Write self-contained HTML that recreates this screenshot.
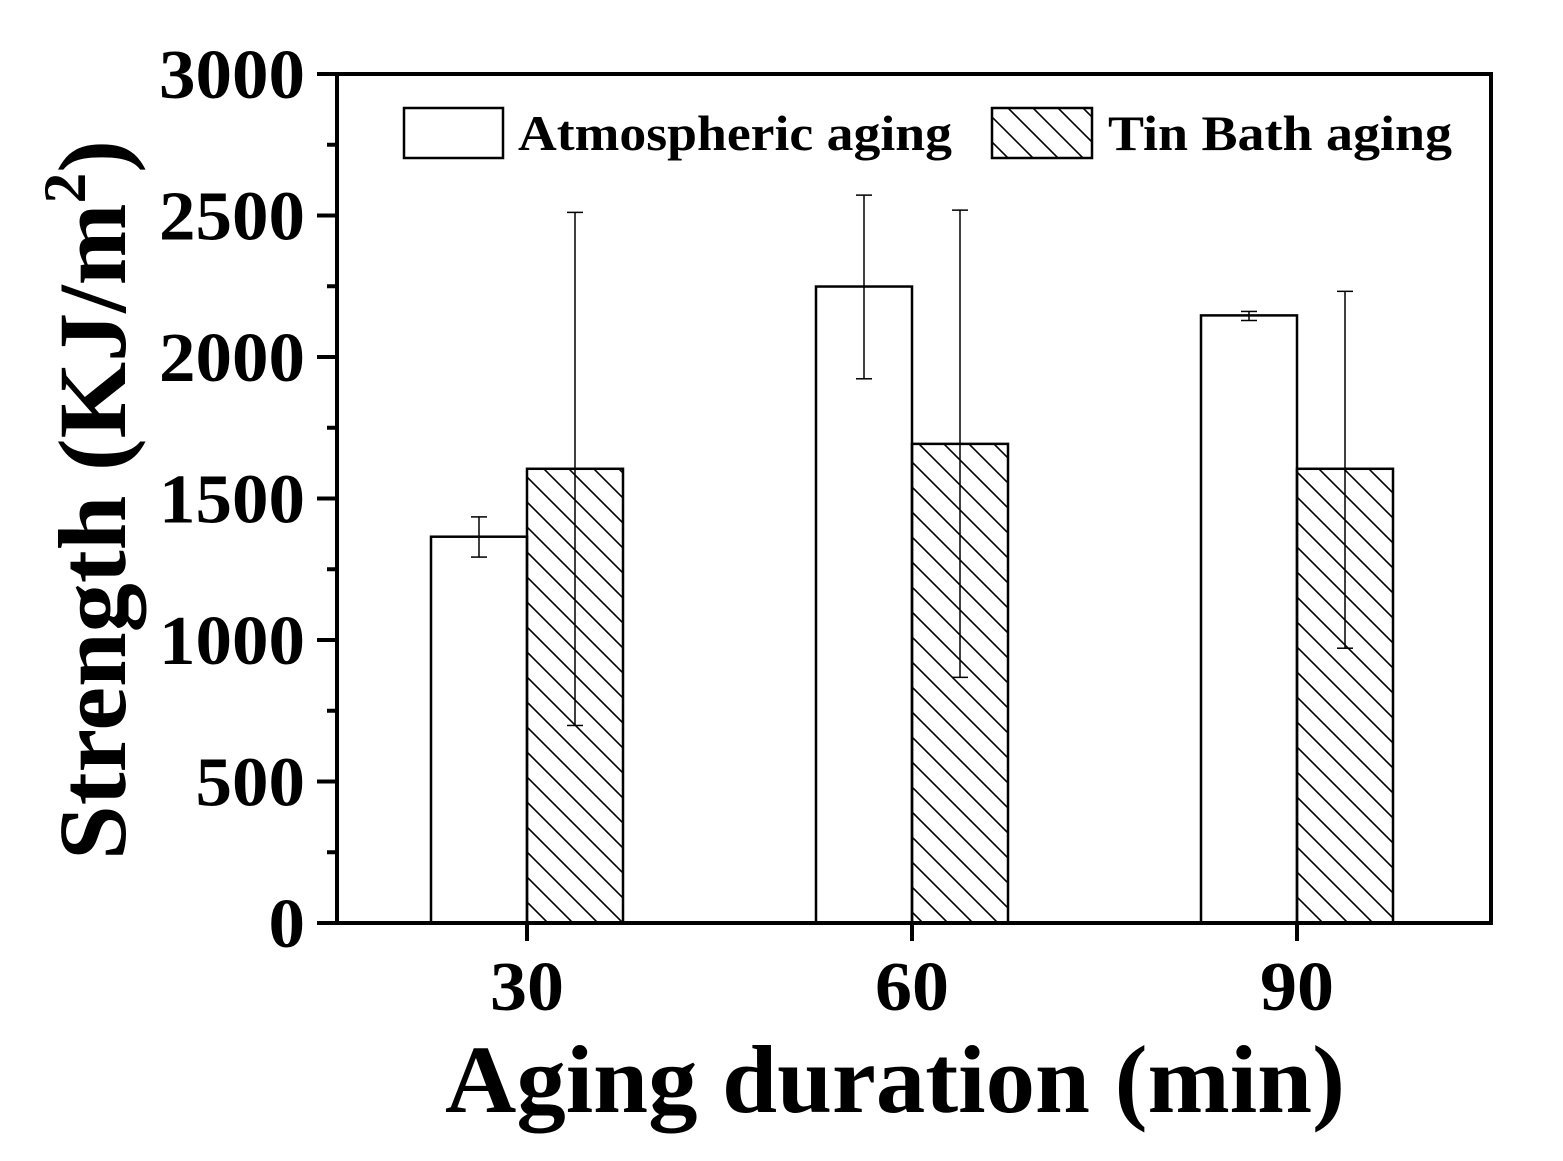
<!DOCTYPE html>
<html><head><meta charset="utf-8"><style>
html,body{margin:0;padding:0;background:#fff}
svg{display:block}
text{font-family:"Liberation Serif",serif;font-weight:bold;fill:#000}
</style></head><body>
<svg id="chart" width="1563" height="1161" viewBox="0 0 1563 1161">
<defs>
<pattern id="hatch" patternUnits="userSpaceOnUse" width="25" height="25">
<path d="M-6,-6 L31,31 M-31,-6 L6,31 M19,-6 L56,31" stroke="#000" stroke-width="1.6"/>
</pattern>
</defs>
<g id="bars"></g>
<g id="axes"></g>
<rect x="404" y="108" width="99" height="50" fill="#fff" stroke="#000" stroke-width="2.5"/>
<text x="518" y="150" font-size="50" textLength="434" lengthAdjust="spacingAndGlyphs">Atmospheric aging</text>
<rect x="992" y="108" width="100" height="50" fill="url(#hatch)" stroke="#000" stroke-width="2.5"/>
<text x="1108" y="150" font-size="50" textLength="344" lengthAdjust="spacingAndGlyphs">Tin Bath aging</text>
<text transform="translate(125,860) rotate(-90)" font-size="96" textLength="720" lengthAdjust="spacingAndGlyphs">Strength (KJ/m<tspan font-size="60" dy="-40">2</tspan><tspan dy="40">)</tspan></text>
<text x="445" y="1112" font-size="96" textLength="900" lengthAdjust="spacingAndGlyphs">Aging duration (min)</text>
</svg>
<script>
const categories = ["30","60","90"];
const atmValues = [1365, 2249, 2147];
const atmErrHigh = [1435, 2572, 2161];
const atmErrLow = [1293, 1923, 2129];
const tinValues = [1605, 1693, 1605];
const tinErrHigh = [2511, 2519, 2232];
const tinErrLow = [698, 868, 971];
const yTicks = [0,500,1000,1500,2000,2500,3000];

const L=337,R=1491,T=74,B=923,yMax=3000;
const y=v=>B-(v/yMax)*(B-T);
const x=i=>527+385*i;
const bw=96;
const NS="http://www.w3.org/2000/svg";
function mk(tag,attrs,parent){const e=document.createElementNS(NS,tag);for(const k in attrs)e.setAttribute(k,attrs[k]);parent.appendChild(e);return e;}
const bars=document.getElementById('bars'), axes=document.getElementById('axes');

function errBar(cx,hi,lo,name){
  const g=mk('g',{stroke:'#000','stroke-width':1.5},bars);
  
  
  mk('line',{x1:cx,x2:cx,y1:y(hi),y2:y(lo)},g);
  mk('line',{x1:cx-8,x2:cx+8,y1:y(hi),y2:y(hi)},g);
  mk('line',{x1:cx-8,x2:cx+8,y1:y(lo),y2:y(lo)},g);
}
categories.forEach((c,i)=>{
  const cx=x(i);
  const a=mk('rect',{x:cx-bw,y:y(atmValues[i]),width:bw,height:B-y(atmValues[i]),fill:'#fff',stroke:'#000','stroke-width':2.5},bars);
  
  
  const t=mk('rect',{x:cx,y:y(tinValues[i]),width:bw,height:B-y(tinValues[i]),fill:'url(#hatch)',stroke:'#000','stroke-width':2.5},bars);
  
  
  errBar(cx-bw/2,atmErrHigh[i],atmErrLow[i],'error-bar-atmospheric-'+c);
  errBar(cx+bw/2,tinErrHigh[i],tinErrLow[i],'error-bar-tin-bath-'+c);
  const tk=mk('line',{x1:cx,x2:cx,y1:B,y2:B+18,stroke:'#000','stroke-width':4},axes);
  
  
  const lb=mk('text',{x:cx-37,y:1010,'font-size':70,textLength:74,lengthAdjust:'spacingAndGlyphs'},axes);
  lb.textContent=c;
  
  
});
const frame=mk('rect',{x:L,y:T,width:R-L,height:B-T,fill:'none',stroke:'#000','stroke-width':4},axes);


yTicks.forEach((v,i)=>{
  const tk=mk('line',{x1:L-20,x2:L,y1:y(v),y2:y(v),stroke:'#000','stroke-width':4},axes);
  
  
  const w=String(v).length*36.5;
  const lb=mk('text',{x:305-w,y:y(v)+24,'font-size':70,textLength:w,lengthAdjust:'spacingAndGlyphs'},axes);
  lb.textContent=v;
  
  
  if(i<yTicks.length-1){
    const mv=(v+yTicks[i+1])/2;
    const m=mk('line',{x1:L-10,x2:L,y1:y(mv),y2:y(mv),stroke:'#000','stroke-width':4},axes);
    
    
  }
});
</script>
</body></html>
